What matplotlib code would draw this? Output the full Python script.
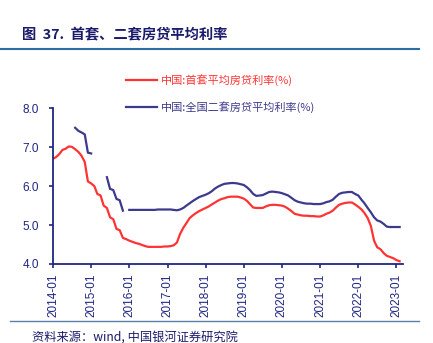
import numpy as np
import pandas as pd
import matplotlib
matplotlib.use('Agg')
import matplotlib.pyplot as plt
import matplotlib.dates as mdates
from matplotlib.lines import Line2D

plt.rcParams['font.family'] = ['Noto Sans CJK SC', 'DejaVu Sans']

# Datos mensuales 2014-01 .. 2023-02
fechas = pd.date_range('2014-01-01', periods=110, freq='MS')

primera = [
    6.70, 6.75, 6.82, 6.93, 6.96, 7.02, 7.01, 6.95, 6.88, 6.78,
    6.62, 6.12, 6.07, 6.00, 5.80, 5.76, 5.50, 5.44, 5.20, 5.15,
    4.90, 4.87, 4.67, 4.64, 4.60, 4.57, 4.54, 4.52, 4.49, 4.46,
    4.44, 4.44, 4.44, 4.44, 4.44, 4.45, 4.45, 4.46, 4.48, 4.55,
    4.77, 4.93, 5.05, 5.18, 5.25, 5.31, 5.36, 5.40, 5.44, 5.48,
    5.53, 5.58, 5.63, 5.67, 5.69, 5.72, 5.73, 5.73, 5.73, 5.71,
    5.68, 5.62, 5.54, 5.45, 5.44, 5.44, 5.44, 5.48, 5.51, 5.52,
    5.52, 5.51, 5.50, 5.47, 5.42, 5.36, 5.29, 5.27, 5.25, 5.24,
    5.24, 5.23, 5.23, 5.22, 5.22, 5.25, 5.29, 5.32, 5.37, 5.45,
    5.52, 5.55, 5.57, 5.58, 5.58, 5.53, 5.47, 5.40, 5.31, 5.18,
    4.98, 4.60, 4.43, 4.38, 4.28, 4.21, 4.18, 4.15, 4.10, 4.07,
]

nan = np.nan
segunda = [
    nan, nan, nan, nan, nan, nan, nan, 7.50, 7.42, 7.38,
    7.33, 6.86, 6.84, nan, nan, nan, nan, 6.23, 5.93, 5.90,
    5.67, 5.64, 5.37, nan, 5.39, 5.39, 5.39, 5.39, 5.39, 5.39,
    5.39, 5.39, 5.39, 5.40, 5.40, 5.40, 5.40, 5.40, 5.39, 5.38,
    5.40, 5.44, 5.50, 5.56, 5.62, 5.67, 5.72, 5.75, 5.78, 5.82,
    5.87, 5.94, 5.99, 6.03, 6.06, 6.07, 6.08, 6.08, 6.07, 6.05,
    6.03, 5.97, 5.90, 5.80, 5.75, 5.76, 5.77, 5.81, 5.85, 5.86,
    5.85, 5.84, 5.82, 5.79, 5.76, 5.70, 5.64, 5.60, 5.58, 5.56,
    5.55, 5.55, 5.54, 5.54, 5.54, 5.56, 5.59, 5.61, 5.65, 5.73,
    5.80, 5.83, 5.84, 5.85, 5.85, 5.80, 5.76, 5.65, 5.56, 5.44,
    5.33, 5.20, 5.12, 5.09, 5.03, 4.96, 4.95, 4.95, 4.95, 4.95,
]

etiquetas = ['中国:首套平均房贷利率(%)', '中国:全国二套房贷平均利率(%)']
titulo = '图  37.  首套、二套房贷平均利率'
fuente = '资料来源：wind, 中国银河证券研究院'

rojo = '#FF3333'
azul = '#3D3A8E'
marino = '#1F2680'

fig = plt.figure(figsize=(4.33, 3.43), dpi=100)
ax = fig.add_axes([53 / 433, 1 - 264 / 343, 350 / 433, (264 - 108.3) / 343])

ax.plot(fechas, primera, color=rojo, lw=1.6)
ax.plot(fechas, segunda, color=azul, lw=1.6)

ax.set_ylim(4.0, 8.0)
ax.set_yticks([4.0, 5.0, 6.0, 7.0, 8.0])
ax.yaxis.set_major_formatter(matplotlib.ticker.FormatStrFormatter('%.1f'))
ax.set_xlim(pd.Timestamp('2014-01-01'), pd.Timestamp('2023-03-05'))
ax.xaxis.set_major_locator(mdates.YearLocator())
ax.xaxis.set_major_formatter(mdates.DateFormatter('%Y-%m'))

for s in ['top', 'right']:
    ax.spines[s].set_visible(False)
for s in ['left', 'bottom']:
    ax.spines[s].set_color(marino)
    ax.spines[s].set_linewidth(1.3)

ax.tick_params(axis='both', colors=marino, length=3, width=1.2, labelsize=8.5)
ax.tick_params(axis='y', pad=7)
ax.tick_params(axis='x', pad=4)
for lab in ax.get_xticklabels() + ax.get_yticklabels():
    lab.set_family(['Liberation Sans', 'DejaVu Sans'])
for lab in ax.get_xticklabels():
    lab.set_rotation(90)

# Leyenda
handles = [Line2D([], [], color=rojo, lw=1.6), Line2D([], [], color=azul, lw=1.6)]
fig.legend(handles, etiquetas, loc='upper left', bbox_to_anchor=(120 / 433, 1 - 69 / 343),
           frameon=False, fontsize=8, handlelength=2.8, handletextpad=0.4,
           labelspacing=1.3, borderpad=0, labelcolor=[rojo, azul])

# Titulo, lineas y fuente
fig.text(22 / 433, 1 - 35 / 343, titulo, fontsize=10.3, fontweight='bold', color='#1B1B6B', va='center')
fig.add_artist(Line2D([0, 419 / 433], [1 - 49 / 343] * 2, color='#2E6DA4', lw=1.5))
fig.add_artist(Line2D([10 / 433, 419 / 433], [1 - 321 / 343] * 2, color='#5A7FA8', lw=1.0))
fig.text(32 / 433, 1 - 337 / 343, fuente, fontsize=8.8, style='italic', color='#1B1B6B', va='center')

fig.savefig('out.png', dpi=100)
